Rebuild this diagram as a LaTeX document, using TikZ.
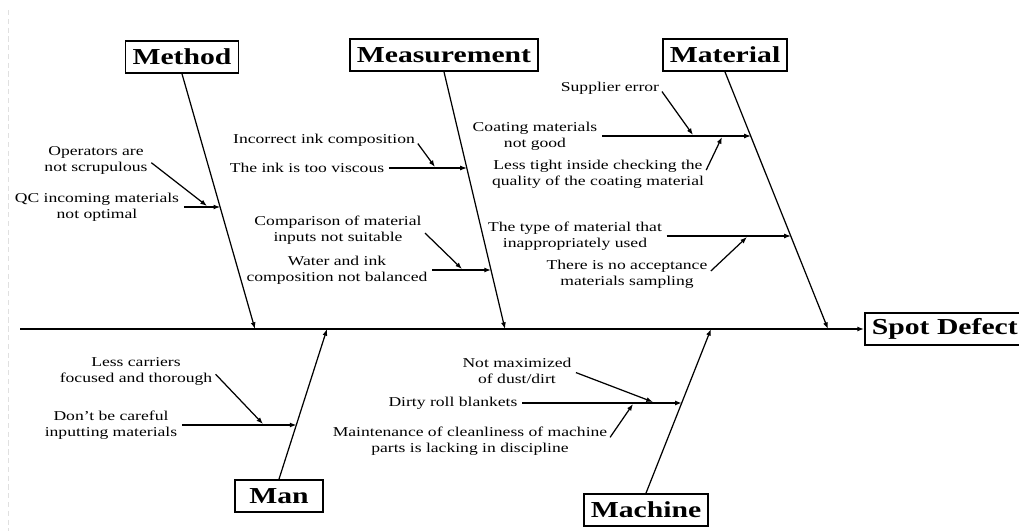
\documentclass[tikz,border=0pt]{standalone}
\usepackage{fontspec}
\setmainfont{Liberation Serif}[FakeStretch=1.3]
\usetikzlibrary{arrows.meta}

\tikzset{
  catbox/.style={draw, line width=1pt, font=\fontsize{13}{15}\selectfont\bfseries, inner xsep=0.14cm, minimum height=0.64cm},
  cause/.style={font=\fontsize{7.7}{9.1}\selectfont, align=center, inner sep=0pt},
  bone/.style={-{Latex[length=3.8pt,width=2.8pt]}, line width=0.7pt},
  twig/.style={bone, shorten <=2.5pt},
}

\begin{document}
\begin{tikzpicture}[x=0.02cm, y=-0.02cm]
  \useasboundingbox (0,0) rectangle (1019,531);
  \draw[black!12, densely dashed] (8,10) -- (8,531);

  \node [catbox, anchor=west] (defect) at (864,329) {Spot Defect};
  \node [catbox] (method) at (182,57) {Method};
  \node [catbox] (measurement) at (444,55) {Measurement};
  \node [catbox] (material) at (725,55) {Material};
  \node [catbox, minimum width=1.76cm] (man) at (279,496) {Man};
  \node [catbox] (machine) at (646,510) {Machine};

  \coordinate (tail) at (20,329);
  \coordinate (s1) at (255,329);
  \coordinate (s2) at (505,329);
  \coordinate (s3) at (828,329);
  \coordinate (s4) at (327,329);
  \coordinate (s5) at (711,329);

  \draw [bone] (tail) -- (defect.west);
  \draw [bone] (method.south) -- (s1);
  \draw [bone] (measurement.south) -- (s2);
  \draw [bone] (material.south) -- (s3);
  \draw [bone] (man.north) -- (s4);
  \draw [bone] (machine.north) -- (s5);

  \coordinate (b1) at (220.2,207);
  \coordinate (b2) at (466.9,168);
  \coordinate (b3) at (491,270);
  \coordinate (b4) at (750.9,136);
  \coordinate (b5) at (790.9,236);
  \coordinate (b6) at (296.5,425);
  \coordinate (b7) at (681.8,403);

  \coordinate (t1) at (207,206);
  \coordinate (t2) at (435,167);
  \coordinate (t3) at (462,269);
  \coordinate (t4) at (693,135);
  \coordinate (t5) at (722,137);
  \coordinate (t6) at (747,237);
  \coordinate (t7) at (263,424);
  \coordinate (t8) at (653,402);
  \coordinate (t9) at (633,404);

  \node [cause] (ops) at (96,160) {Operators are\\not scrupulous};
  \node [cause] (qc) at (97,207) {QC incoming materials\\not optimal};
  \node [cause] (inkcomp) at (324,140) {Incorrect ink composition};
  \node [cause] (viscous) at (307,168) {The ink is too viscous};
  \node [cause] (compare) at (338,230) {Comparison of material\\inputs not suitable};
  \node [cause] (water) at (337,270) {Water and ink\\composition not balanced};
  \node [cause] (supplier) at (610,88) {Supplier error};
  \node [cause] (coating) at (535,136) {Coating materials\\not good};
  \node [cause] (lesstight) at (598,174) {Less tight inside checking the\\quality of the coating material};
  \node [cause] (mattype) at (575,236) {The type of material that\\inappropriately used};
  \node [cause] (sampling) at (627,274) {There is no acceptance\\materials sampling};
  \node [cause] (carriers) at (136,371) {Less carriers\\focused and thorough};
  \node [cause] (careful) at (111,425) {Don't be careful\\inputting materials};
  \node [cause] (dust) at (517,371) {Not maximized\\of dust/dirt};
  \node [cause] (blankets) at (453,403) {Dirty roll blankets};
  \node [cause] (upkeep) at (470,441) {Maintenance of cleanliness of machine\\parts is lacking in discipline};

  \draw [twig] (qc.east) -- (b1);
  \draw [twig] (ops.east) -- (t1);
  \draw [twig] (viscous.east) -- (b2);
  \draw [twig] (inkcomp.east) -- (t2);
  \draw [twig] (water.east) -- (b3);
  \draw [twig] (compare.east) -- (t3);
  \draw [twig] (coating.east) -- (b4);
  \draw [twig] (supplier.east) -- (t4);
  \draw [twig] (lesstight.east) -- (t5);
  \draw [twig] (mattype.east) -- (b5);
  \draw [twig] (sampling.east) -- (t6);
  \draw [twig] (careful.east) -- (b6);
  \draw [twig] (carriers.east) -- (t7);
  \draw [twig] (blankets.east) -- (b7);
  \draw [twig] (dust.east) -- (t8);
  \draw [twig] (upkeep.east) -- (t9);
\end{tikzpicture}
\end{document}
